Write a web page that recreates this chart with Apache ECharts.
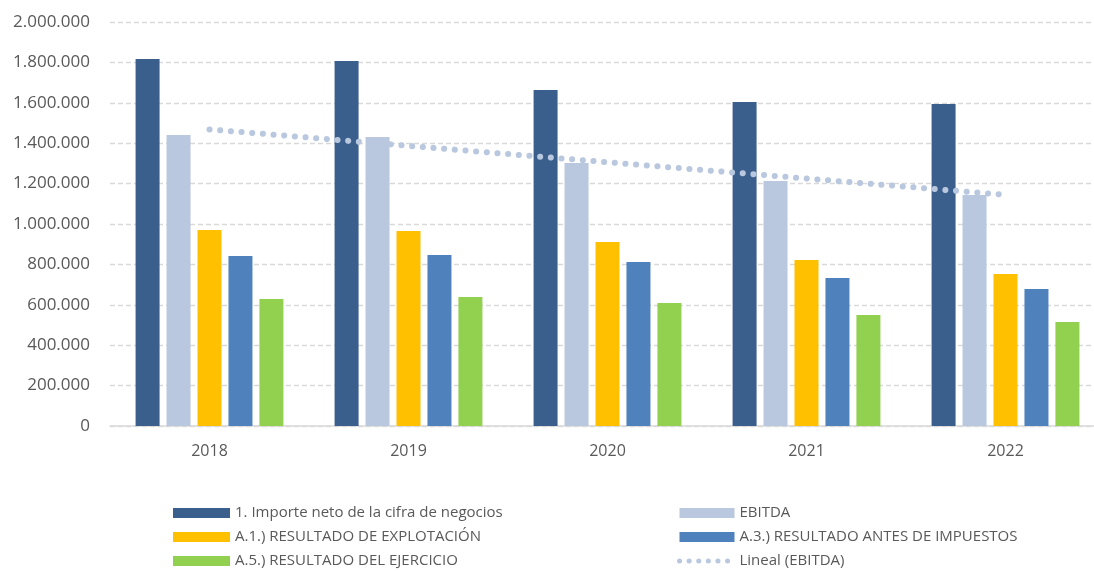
<!DOCTYPE html>
<html>
<head>
<meta charset="utf-8">
<script src="https://cdn.jsdelivr.net/npm/echarts@6/dist/echarts.min.js"></script>
<style>
    html, body { margin: 0; padding: 0; background: #fff; overflow: hidden; }
    /* the plot area runs past the right edge of the window, as in the reference */
    #chart { width: 1110px; height: 571px; }
</style>
</head>
<body>
<div id="chart"></div>
<script>
// years on the x axis
var years = ['2018', '2019', '2020', '2021', '2022'];

// values
var importeNeto = [1817000, 1807000, 1663000, 1604000, 1594000];
var ebitda = [1440000, 1431000, 1302000, 1213000, 1144000];
var resExplotacion = [970000, 965000, 911000, 822000, 752000];
var resAntesImpuestos = [841000, 847000, 812000, 733000, 678000];
var resEjercicio = [629000, 639000, 609000, 550000, 515000];

var seriesNames = [
    '1. Importe neto de la cifra de negocios',
    'EBITDA',
    'A.1.) RESULTADO DE EXPLOTACIÓN',
    'A.3.) RESULTADO ANTES DE IMPUESTOS',
    'A.5.) RESULTADO DEL EJERCICIO',
    'Lineal (EBITDA)'
];

// linear trend of EBITDA (least squares, like the spreadsheet trendline)
function linearTrend(values) {
    var n = values.length, sx = 0, sy = 0, sxy = 0, sxx = 0;
    values.forEach(function (v, i) {
        sx += i; sy += v; sxy += i * v; sxx += i * i;
    });
    var slope = (n * sxy - sx * sy) / (n * sxx - sx * sx);
    var icpt = (sy - slope * sx) / n;
    return values.map(function (v, i) { return Math.round(icpt + slope * i); });
}

function fmt(v) {
    return String(v).replace(/\B(?=(\d{3})+(?!\d))/g, '.');
}

var textColor = '#595959';
var font = '"Open Sans", "Noto Sans", sans-serif';

var chart = echarts.init(document.getElementById('chart'));

function bar(name, data, color) {
    return {
        name: name,
        type: 'bar',
        data: data,
        barWidth: 24,
        barGap: '29%',
        itemStyle: { color: color }
    };
}

var legendText = { color: textColor, fontSize: 15, lineHeight: 16, fontFamily: font };
var dotted = { color: '#b9c7df', width: 6, type: [0.1, 10.6], cap: 'round' };

var option = {
    animation: false,
    textStyle: { fontFamily: font },
    grid: { left: 110, right: 5, top: 22, bottom: 145 },
    xAxis: {
        type: 'category',
        data: years,
        axisLine: { lineStyle: { color: '#d9d9d9', width: 1.5 } },
        axisTick: { show: false },
        axisLabel: { color: textColor, fontSize: 16, margin: 17, fontFamily: font }
    },
    yAxis: {
        type: 'value',
        min: 0,
        max: 2000000,
        interval: 200000,
        axisLine: { show: false },
        axisTick: { show: false },
        splitLine: { lineStyle: { color: '#d9d9d9', type: [5, 3], width: 1.3 } },
        axisLabel: {
            color: textColor, fontSize: 17, margin: 20, fontFamily: font,
            formatter: function (v) { return fmt(v); }
        }
    },
    legend: [
        {
            orient: 'vertical',
            left: 173,
            top: 505,
            padding: 0,
            itemWidth: 57,
            itemHeight: 10,
            itemGap: 8,
            icon: 'rect',
            textStyle: legendText,
            data: [seriesNames[0], seriesNames[2], seriesNames[4]]
        },
        {
            orient: 'vertical',
            left: 677,
            top: 505,
            padding: 0,
            itemWidth: 55,
            itemHeight: 10,
            itemGap: 8,
            textStyle: legendText,
            data: [
                { name: seriesNames[1], icon: 'rect' },
                { name: seriesNames[3], icon: 'rect' },
                { name: seriesNames[5], itemStyle: { opacity: 0 }, lineStyle: { width: 5, type: [0.1, 9.5], cap: 'round' } }
            ]
        }
    ],
    series: [
        bar(seriesNames[0], importeNeto, '#3b5f8d'),
        bar(seriesNames[1], ebitda, '#b9c7df'),
        bar(seriesNames[2], resExplotacion, '#ffc000'),
        bar(seriesNames[3], resAntesImpuestos, '#4f81bd'),
        bar(seriesNames[4], resEjercicio, '#92d050'),
        {
            name: seriesNames[5],
            type: 'line',
            data: linearTrend(ebitda),
            symbol: 'none',
            z: 5,
            lineStyle: dotted,
            itemStyle: { color: '#b9c7df' }
        }
    ]
};

chart.setOption(option);
</script>
</body>
</html>
